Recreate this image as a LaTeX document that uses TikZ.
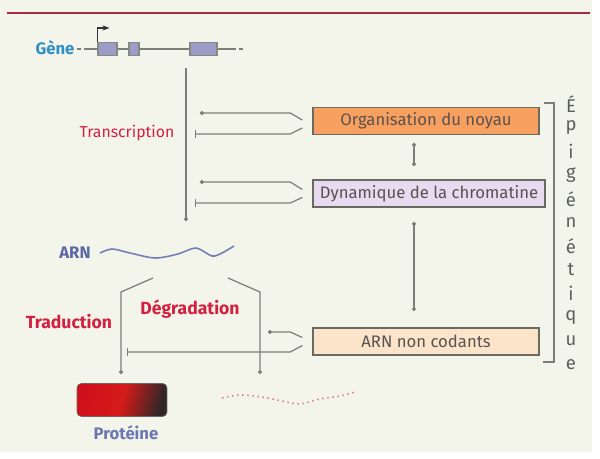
\documentclass[tikz,border=0pt]{standalone}
\usepackage{fontspec}
\setmainfont{Fira Sans}
\usetikzlibrary{arrows.meta,calc}

\definecolor{panelbg}{HTML}{F3F4EA}
\definecolor{topred}{HTML}{A82A40}
\definecolor{linegray}{HTML}{7A8078}
\definecolor{boxline}{HTML}{6A6A62}
\definecolor{boxtext}{HTML}{5A524E}
\definecolor{orgfill}{HTML}{F8A060}
\definecolor{dynfill}{HTML}{E8DAF0}
\definecolor{ncfill}{HTML}{FCE4CA}
\definecolor{genblue}{HTML}{2F8FCB}
\definecolor{arnblue}{HTML}{5A68A8}
\definecolor{exonfill}{HTML}{9C9CC8}
\definecolor{labred}{HTML}{D42040}
\definecolor{protred}{HTML}{D0101C}
\definecolor{protdark}{HTML}{302626}
\definecolor{degpink}{HTML}{D88A8A}
\definecolor{epigray}{HTML}{5A6058}

\begin{document}
\begin{tikzpicture}[x=0.02cm,y=-0.02cm,
  conn/.style={draw=linegray,line width=0.7pt},
  act/.style={conn,-{Circle[length=2.2pt]}},
  inh/.style={conn,-{Bar[width=5pt]}},
  both/.style={conn,{Circle[length=2.2pt]}-{Circle[length=2.2pt]}},
  regbox/.style={draw=boxline,line width=0.8pt,minimum height=0.54cm,
    inner sep=0pt,text=boxtext,font=\fontsize{9.5}{11}\selectfont},
  exon/.style={draw=boxline!80,fill=exonfill,line width=0.6pt,
    minimum height=0.26cm,inner sep=0pt},
  redlab/.style={text=labred,font=\fontsize{9}{11}\selectfont},
  boldlab/.style={text=labred,font=\bfseries\fontsize{10}{12}\selectfont},
  epi/.style={text=epigray,font=\fontsize{10.5}{12}\selectfont}
]
  \useasboundingbox (0,0) rectangle (600,459);
  \fill[white] (0,0) rectangle (600,459);
  \fill[panelbg] (0,0) rectangle (592,452);
  \draw[topred,line width=1.6pt] (7,13) -- (590,13);

  % gene
  \node[text=genblue,inner sep=1pt,font=\bfseries\fontsize{9.5}{11}\selectfont] (gene) at (55,48) {Gène};
  \node[exon,minimum width=0.38cm] (ex1) at (107.5,49) {};
  \node[exon,minimum width=0.20cm] (ex2) at (134,49) {};
  \node[exon,minimum width=0.54cm] (ex3) at (203.5,49) {};
  \coordinate (g0) at (85,49);
  \coordinate (g1) at (232,49);
  \coordinate (g2) at (244,49);
  \draw[conn,dash pattern=on 2.5pt off 1.5pt] (gene.east |- g0) -- (g0);
  \draw[conn] (g0) -- (ex1) (ex1) -- (ex2) (ex2) -- (ex3) (ex3) -- (g1);
  \draw[conn,dash pattern=on 2.5pt off 1.5pt] (g1) -- (g2);
  \draw[conn,draw=black!80,-{Stealth[length=4pt]}] (ex1.north west) -- ++(0,-14) -- ++(12,0);

  % transcription
  \coordinate (ts) at (186,68);
  \coordinate (te) at (186,221);
  \draw[act] (ts) -- (te);
  \node[redlab] (transc) at (127,133) {Transcription};

  % epigenetic boxes
  \node[regbox,fill=orgfill,minimum width=4.52cm] (org) at (426,121) {Organisation du noyau};
  \node[regbox,fill=dynfill,minimum width=4.64cm] (dyn) at (429,193.5) {Dynamique de la chromatine};
  \node[regbox,fill=ncfill,minimum width=4.52cm] (nc) at (426,341.5) {ARN non codants};

  \coordinate (d1) at (414,143);
  \coordinate (d2) at (414,166);
  \coordinate (d3) at (414,222);
  \coordinate (d4) at (414,311);
  \draw[both] (d1) -- (d2);
  \draw[both] (d3) -- (d4);

  \coordinate (oa) at (200,113);
  \coordinate (ob) at (195,134);
  \coordinate (da) at (200,182);
  \coordinate (db) at (195,203);
  \coordinate (na) at (268,332);
  \coordinate (nb) at (127,352);
  \draw[act] ($(org.west)+(-10,-1)$) -- ++(-12,-7) -- (oa);
  \draw[inh] ($(org.west)+(-10,7)$) -- ++(-12,6) -- (ob);
  \draw[act] ($(dyn.west)+(-10,-4)$) -- ++(-12,-7.5) -- (da);
  \draw[inh] ($(dyn.west)+(-10,4)$) -- ++(-12,5.5) -- (db);
  \draw[act] ($(nc.west)+(-10,-4)$) -- ++(-12,-5.5) -- (na);
  \draw[inh] ($(nc.west)+(-10,4)$) -- ++(-12,6.5) -- (nb);

  % bracket
  \draw[conn] (544,103) -- (554,103) -- (554,362) -- (543,362);
  \foreach \l [count=\i from 0] in {É,p,i,g,é,n,é,t,i,q,u,e}
    \node[epi] (epi\i) at (571,104+\i*23.7) {\l};

  % ARN
  \node[text=arnblue,font=\bfseries\fontsize{9.5}{11}\selectfont] (arn) at (75,253) {ARN};
  \draw[arnblue!85,line width=0.9pt] plot[smooth] coordinates
    {(100,253) (112,249) (130,253) (155,258) (178,254) (196,248) (212,256) (222,253) (234,246)};

  % traduction / degradation
  \node[boldlab] (trad) at (69,322) {Traduction};
  \node[boldlab] (degr) at (190,309) {Dégradation};
  \node[rounded corners=2.5pt,draw=protdark!70,minimum width=1.8cm,minimum height=0.66cm,
    left color=protred,right color=protdark,middle color=protred!90!orange,
    shading angle=75] (prot) at (122,400) {};
  \node[text=arnblue!90,font=\bfseries\fontsize{9.5}{11}\selectfont] (protl) at (126,433) {Protéine};
  \coordinate (tl0) at (153,278);
  \coordinate (tl1) at (121,292);
  \coordinate (tl2) at (121,374);
  \coordinate (tr0) at (228,278);
  \coordinate (tr1) at (260,292);
  \coordinate (tr2) at (260,374);
  \draw[act] (tl0) -- (tl1) -- (tl2);
  \draw[act] (tr0) -- (tr1) -- (tr2);
  \draw[degpink,dotted,line width=0.9pt] plot[smooth] coordinates
    {(222,398) (240,395) (262,397) (282,401) (300,404) (320,399) (340,396) (355,392)};
\end{tikzpicture}
\end{document}
